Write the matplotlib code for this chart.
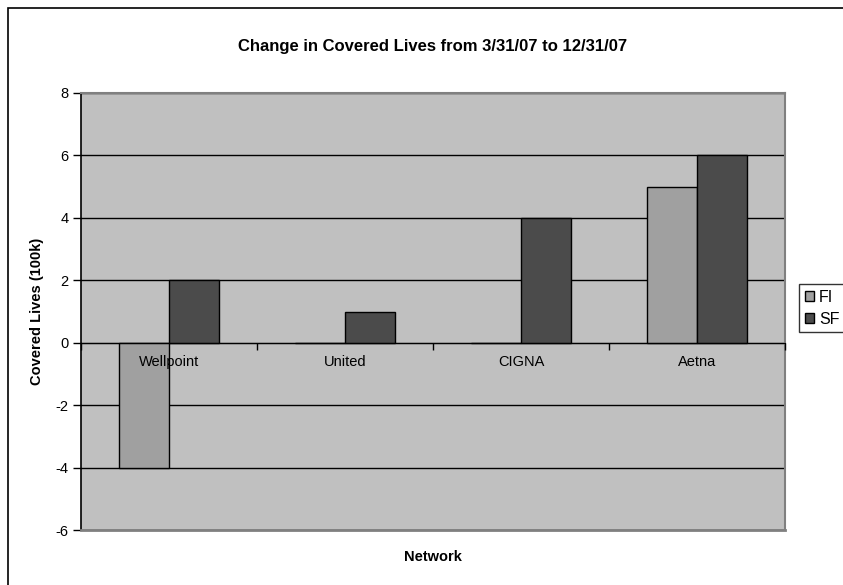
import numpy as np
import matplotlib
matplotlib.use("Agg")
import matplotlib.pyplot as plt
from matplotlib.patches import Rectangle

plt.rcParams["font.family"] = ["Liberation Sans", "DejaVu Sans"]
plt.rcParams["axes.unicode_minus"] = False

networks = ["Wellpoint", "United", "CIGNA", "Aetna"]
fi_values = [-4, 0, 0, 5]
sf_values = [2, 1, 4, 6]
y_ticks = [-6, -4, -2, 0, 2, 4, 6, 8]

W, H = 843, 585
fig = plt.figure(figsize=(W / 100, H / 100), dpi=100)

# outer chart border (runs off the right and bottom edges)
fig.patches.append(Rectangle((8 / W, -0.1), 1.2, 1 - 8 / H + 0.1,
                             transform=fig.transFigure, fill=False,
                             edgecolor="black", linewidth=1.2))

ax = fig.add_axes([81 / W, 1 - 530 / H, 704 / W, 437 / H])
ax.set_facecolor("#c0c0c0")

x = np.arange(len(networks)) + 0.5
bw = 50 / 176
ax.bar(x - bw / 2, fi_values, bw, color="#a0a0a0", edgecolor="black",
       linewidth=1, label="FI", zorder=3)
ax.bar(x + bw / 2, sf_values, bw, color="#4b4b4b", edgecolor="black",
       linewidth=1, label="SF", zorder=3)

ax.set_xlim(0, len(networks))
ax.set_ylim(-6, 8)
ax.set_yticks(y_ticks)
ax.tick_params(axis="y", direction="out", length=6, width=1, labelsize=10.5,
               pad=3, colors="black")
ax.yaxis.grid(True, color="black", linewidth=1)
ax.set_axisbelow(True)

# category axis sits on the zero line
ax.spines["bottom"].set_position(("data", 0))
ax.spines["bottom"].set_zorder(4)
ax.xaxis.set_zorder(4.5)
ax.set_xticks(x)
ax.set_xticklabels(networks, fontsize=10.5)
ax.set_xticks(np.arange(len(networks) + 1), minor=True)
ax.tick_params(axis="x", which="major", length=0, pad=9)
ax.tick_params(axis="x", which="minor", direction="out", length=5, width=1)

for s in ["top", "right"]:
    ax.spines[s].set_color("#808080")
    ax.spines[s].set_linewidth(1.5)
ax.spines["left"].set_linewidth(1.2)
ax.axhline(-6, color="#808080", linewidth=2, zorder=5, clip_on=False)

ax.set_ylabel("Covered Lives (100k)", fontsize=10.5, fontweight="bold",
              labelpad=8)
fig.text(433 / W, 1 - 557 / H, "Network", fontsize=10.5, fontweight="bold",
         ha="center", va="center")
fig.text(433 / W, 1 - 46 / H, "Change in Covered Lives from 3/31/07 to 12/31/07",
         fontsize=12, fontweight="bold", ha="center", va="center")

leg = fig.legend(loc="upper left", bbox_to_anchor=(799 / W, 1 - 284 / H),
                 fontsize=11.5, frameon=True, fancybox=False, borderpad=0.35,
                 handlelength=0.6, handleheight=0.6, handletextpad=0.3,
                 labelspacing=0.45, borderaxespad=0)
leg.get_frame().set_edgecolor("black")
leg.get_frame().set_linewidth(1)

fig.savefig("out.png", dpi=100)
